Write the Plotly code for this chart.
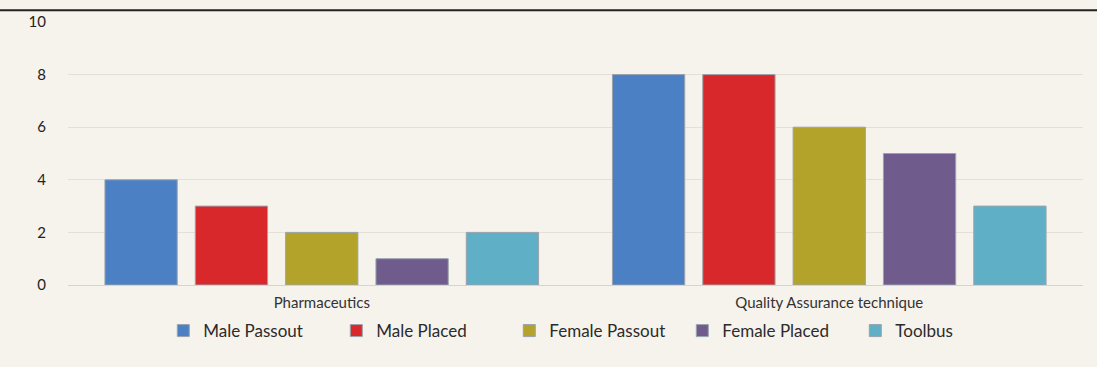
import plotly.graph_objects as go

# data
courses = ["Pharmaceutics", "Quality Assurance technique"]
male_passout = [4, 8]
male_placed = [3, 8]
female_passout = [2, 6]
female_placed = [1, 5]
toolbus = [2, 3]

series = [
    ("Male Passout", male_passout, "#4b80c4"),
    ("Male Placed", male_placed, "#d9282b"),
    ("Female Passout", female_passout, "#b3a32b"),
    ("Female Placed", female_placed, "#6f5c8c"),
    ("Toolbus", toolbus, "#5fb0c6"),
]

fig = go.Figure()
for name, vals, col in series:
    fig.add_trace(go.Bar(
        x=courses, y=vals, name=name,
        marker=dict(color=col, line=dict(color="#9aa3ad", width=1)),
    ))

bg = "#f6f2ec"
fig.update_layout(
    width=1097, height=367,
    barmode="group", bargap=0.11, bargroupgap=0.2,
    paper_bgcolor=bg, plot_bgcolor=bg,
    margin=dict(l=68, r=14, t=18, b=82),
    font=dict(family="Lato, Open Sans, sans-serif", size=15, color="#2b2b2b"),
    legend=dict(orientation="h", x=0.52, xanchor="center", y=-0.175, yanchor="middle",
                font=dict(size=17), itemwidth=30, entrywidth=128, entrywidthmode="pixels",
                bgcolor="rgba(0,0,0,0)"),
    shapes=[dict(type="line", xref="paper", yref="paper", x0=-0.07, x1=1.02,
                 y0=1.045, y1=1.045, line=dict(color="#222", width=2))],
)
fig.update_xaxes(
    showgrid=False, ticks="outside", ticklen=4, tickcolor="rgba(0,0,0,0)",
    showline=True, linecolor="#d8d4cc", tickfont=dict(size=15, color="#333"),
)
fig.update_yaxes(
    range=[0, 10], dtick=2, showgrid=True, gridcolor="#e4e0d8", zeroline=False,
    tickfont=dict(size=15, color="#222"), ticks="outside", ticklen=18,
    tickcolor="rgba(0,0,0,0)",
)

fig.write_html(
    "out.html",
    config={"displayModeBar": False},
    post_script="document.body.style.margin='0';document.body.style.background='%s';" % bg,
)
